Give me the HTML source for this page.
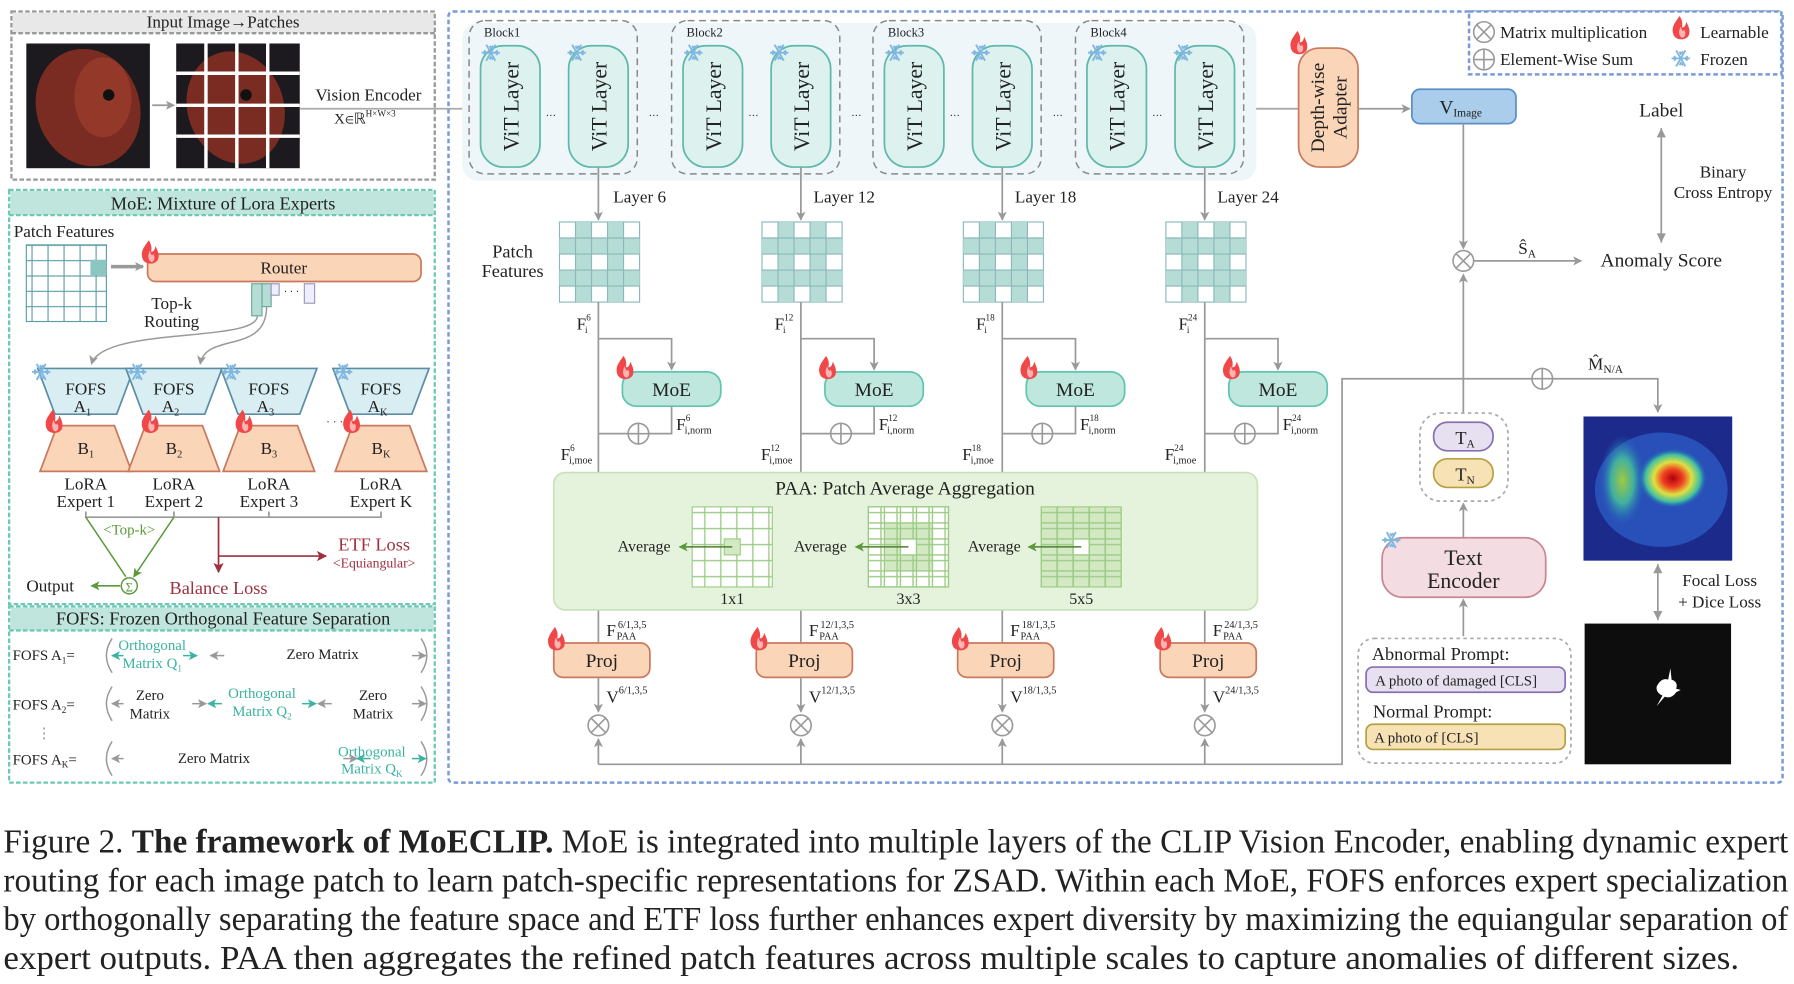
<!DOCTYPE html>
<html><head><meta charset="utf-8"><style>
html,body{margin:0;padding:0;background:#fff;}
svg{display:block;}
text{font-family:"Liberation Serif",serif;fill:#222;}
</style></head><body>
<svg width="1794" height="984" viewBox="0 0 1568 860" xmlns="http://www.w3.org/2000/svg">
<defs>
<marker id="ar" markerWidth="8" markerHeight="8" refX="7" refY="4" orient="auto" markerUnits="userSpaceOnUse"><path d="M0,0 L8,4 L0,8 L2,4z" fill="#999"/></marker>
<marker id="arg" markerWidth="8" markerHeight="8" refX="7" refY="4" orient="auto" markerUnits="userSpaceOnUse"><path d="M0,0 L8,4 L0,8 L2,4z" fill="#5a9a3a"/></marker>
<marker id="arr" markerWidth="9" markerHeight="9" refX="8" refY="4.5" orient="auto" markerUnits="userSpaceOnUse"><path d="M0,0 L9,4.5 L0,9 L2,4.5z" fill="#a03040"/></marker>
<marker id="art" markerWidth="8" markerHeight="8" refX="7" refY="4" orient="auto" markerUnits="userSpaceOnUse"><path d="M0,0 L8,4 L0,8 L2,4z" fill="#3bb3a0"/></marker>
<pattern id="gw" width="14" height="14" patternUnits="userSpaceOnUse"><rect width="14" height="14" fill="#fff" stroke="#9ccc85" stroke-width="1.2"/></pattern>
<pattern id="gg" width="14" height="14" patternUnits="userSpaceOnUse"><rect width="14" height="14" fill="#d3e9c4" stroke="#9ccc85" stroke-width="1.2"/></pattern>
<pattern id="gt" width="14" height="13.4" patternUnits="userSpaceOnUse"><rect width="14" height="13.4" fill="#fff" stroke="#5b9ea6" stroke-width="1"/></pattern>
<g id="flame"><path d="M6,0 C2,6 -2,10 1,17 C3,21 11,22 14,17 C16,12 13,8 12,5 C11,9 10,10 8,10 C9,6 8,3 6,0z" fill="#f04848"/><path d="M7,9 C5,13 5,17 8,19 C11,19 12,15 10,12 C9,14 8,13 7,9z" fill="#ffb3b3"/></g>
<g id="snow" stroke="#7fb7e0" stroke-width="1.6" fill="none"><line x1="-8" y1="0" x2="8" y2="0"/><line x1="-4" y1="-7" x2="4" y2="7"/><line x1="-4" y1="7" x2="4" y2="-7"/><path d="M-6,-2 L-4,0 L-6,2 M6,-2 L4,0 L6,2 M-1,-6 L0,-4 L2,-6 M-1,6 L0,4 L2,6"/></g>
<g id="ot"><circle r="9" fill="#fff" stroke="#999" stroke-width="1.4"/><path d="M-6.3,-6.3 L6.3,6.3 M-6.3,6.3 L6.3,-6.3" stroke="#999" stroke-width="1.4"/></g>
<g id="op"><circle r="9" fill="#fff" stroke="#999" stroke-width="1.4"/><path d="M-9,0 L9,0 M0,-9 L0,9" stroke="#999" stroke-width="1.4"/></g>
<g id="chk">
<rect x="0" y="0" width="70" height="70" fill="#fff" stroke="#8ab8bd"/>
<g fill="#b6dcd6"><rect x="14" y="0" width="14" height="70"/><rect x="42" y="0" width="14" height="70"/><rect x="0" y="14" width="14" height="14"/><rect x="56" y="14" width="14" height="14"/><rect x="0" y="42" width="14" height="14"/><rect x="56" y="42" width="14" height="14"/><rect x="28" y="14" width="14" height="14"/><rect x="28" y="42" width="14" height="14"/></g>
<path d="M14,0V70M28,0V70M42,0V70M56,0V70M0,14H70M0,28H70M0,42H70M0,56H70" stroke="#8ab8bd" stroke-width="1"/>
</g>
</defs>

<!-- ===== LEFT: input ===== -->
<rect x="10" y="10" width="370" height="147" fill="#fff" stroke="#999" stroke-width="2" stroke-dasharray="4,2"/>
<rect x="11" y="11" width="368" height="18" fill="#e8e8e8"/>
<line x1="10" y1="29" x2="380" y2="29" stroke="#999" stroke-width="2" stroke-dasharray="4,2"/>
<text x="195" y="24" font-size="15" text-anchor="middle">Input Image→Patches</text>
<rect x="23" y="38" width="108" height="109" fill="#1c1a1e"/>
<ellipse cx="77" cy="94" rx="45" ry="52" fill="#7a2c22" transform="rotate(-20 77 94)"/>
<ellipse cx="90" cy="85" rx="25" ry="35" fill="#94382a"/>
<circle cx="95" cy="83" r="5" fill="#111"/>
<line x1="133" y1="92" x2="152" y2="92" stroke="#999" stroke-width="1.5" marker-end="url(#ar)"/>
<rect x="154" y="38" width="108" height="109" fill="#1c1a1e"/>
<ellipse cx="206" cy="94" rx="42" ry="50" fill="#7a2c22" transform="rotate(-20 206 94)"/>
<circle cx="215" cy="83" r="5" fill="#111"/>
<path d="M180,38V147M207,38V147M234,38V147M154,64H262M154,92H262M154,119H262" stroke="#fff" stroke-width="3"/>
<text x="322" y="88" font-size="15" text-anchor="middle">Vision Encoder</text>
<text x="292" y="108" font-size="13">X<tspan font-size="9">∈</tspan>ℝ<tspan font-size="8" dy="-6">H×W×3</tspan></text>
<line x1="262" y1="95" x2="1135" y2="95" stroke="#aaa" stroke-width="1.5"/>

<!-- ===== MoE panel ===== -->
<rect x="8" y="166" width="372" height="362" fill="#fff" stroke="#6cc9b6" stroke-width="2" stroke-dasharray="4,2"/>
<rect x="9" y="167" width="370" height="21" fill="#bfe5dc"/>
<line x1="8" y1="188" x2="380" y2="188" stroke="#6cc9b6" stroke-width="2" stroke-dasharray="4,2"/>
<text x="195" y="183" font-size="16" text-anchor="middle">MoE: Mixture of Lora Experts</text>
<text x="12" y="207" font-size="15">Patch Features</text>
<rect x="23" y="214" width="70" height="67" fill="url(#gt)" stroke="#5b9ea6"/>
<rect x="79" y="227" width="14" height="13.4" fill="#8cc6c0"/>
<line x1="97" y1="233" x2="125" y2="233" stroke="#999" stroke-width="3" marker-end="url(#ar)"/>
<rect x="129" y="222" width="239" height="24" rx="7" fill="#fad5b8" stroke="#c97a5e" stroke-width="1.5"/>
<text x="248" y="239" font-size="15" text-anchor="middle">Router</text>
<use href="#flame" x="124" y="210"/>
<rect x="220" y="248" width="9" height="28" fill="#b6dcd6" stroke="#6a9"/>
<rect x="229" y="248" width="8" height="20" fill="#b6dcd6" stroke="#6a9"/>
<rect x="237" y="248" width="7" height="10" fill="#eef" stroke="#99b"/>
<rect x="266" y="248" width="9" height="17" fill="#eef" stroke="#99b"/>
<text x="248" y="258" font-size="9" fill="#999">· · ·</text>
<text x="150" y="270" font-size="15" text-anchor="middle">Top-k</text>
<text x="150" y="286" font-size="15" text-anchor="middle">Routing</text>
<path d="M225,276 C225,300 90,285 80,318" fill="none" stroke="#999" stroke-width="1.3" marker-end="url(#ar)"/>
<path d="M233,268 C233,310 180,290 175,318" fill="none" stroke="#999" stroke-width="1.3" marker-end="url(#ar)"/>
<!-- experts -->
<g font-size="15" text-anchor="middle">
<g transform="translate(75,0)"><path d="M-42,322 L42,322 L27,362 L-27,362z" fill="#d8eef2" stroke="#5b8ea6" stroke-width="1.5"/><path d="M-25,372 L25,372 L40,412 L-40,412z" fill="#fad5b8" stroke="#c97a5e" stroke-width="1.5"/><text y="345">FOFS</text><text x="-3" y="360">A<tspan font-size="9" dy="3">1</tspan></text><text y="397">B<tspan font-size="9" dy="3">1</tspan></text><text y="428">LoRA</text><text y="443">Expert 1</text></g>
<g transform="translate(152,0)"><path d="M-42,322 L42,322 L27,362 L-27,362z" fill="#d8eef2" stroke="#5b8ea6" stroke-width="1.5"/><path d="M-25,372 L25,372 L40,412 L-40,412z" fill="#fad5b8" stroke="#c97a5e" stroke-width="1.5"/><text y="345">FOFS</text><text x="-3" y="360">A<tspan font-size="9" dy="3">2</tspan></text><text y="397">B<tspan font-size="9" dy="3">2</tspan></text><text y="428">LoRA</text><text y="443">Expert 2</text></g>
<g transform="translate(235,0)"><path d="M-42,322 L42,322 L27,362 L-27,362z" fill="#d8eef2" stroke="#5b8ea6" stroke-width="1.5"/><path d="M-25,372 L25,372 L40,412 L-40,412z" fill="#fad5b8" stroke="#c97a5e" stroke-width="1.5"/><text y="345">FOFS</text><text x="-3" y="360">A<tspan font-size="9" dy="3">3</tspan></text><text y="397">B<tspan font-size="9" dy="3">3</tspan></text><text y="428">LoRA</text><text y="443">Expert 3</text></g>
<g transform="translate(333,0)"><path d="M-42,322 L42,322 L27,362 L-27,362z" fill="#d8eef2" stroke="#5b8ea6" stroke-width="1.5"/><path d="M-25,372 L25,372 L40,412 L-40,412z" fill="#fad5b8" stroke="#c97a5e" stroke-width="1.5"/><text y="345">FOFS</text><text x="-3" y="360">A<tspan font-size="9" dy="3">K</tspan></text><text y="397">B<tspan font-size="9" dy="3">K</tspan></text><text y="428">LoRA</text><text y="443">Expert K</text></g>
</g>
<text x="285" y="372" font-size="10" fill="#999">· · ·</text>
<use href="#snow" x="36" y="325"/><use href="#snow" x="120" y="325"/><use href="#snow" x="202" y="325"/><use href="#snow" x="300" y="325"/>
<use href="#flame" x="40" y="358"/><use href="#flame" x="124" y="358"/><use href="#flame" x="206" y="358"/><use href="#flame" x="300" y="358"/>
<path d="M75,447V452H333V447M152,447V452M235,447V452" fill="none" stroke="#999" stroke-width="1.5"/>
<path d="M75,452 L110,504 M152,452 L117,504" stroke="#5a9a3a" stroke-width="1.3" marker-end="url(#arg)"/>
<text x="113" y="467" font-size="13" text-anchor="middle" style="fill:#5a9a3a">&lt;Top-k&gt;</text>
<circle cx="113" cy="512" r="7" fill="#fff" stroke="#5a9a3a" stroke-width="1.3"/>
<text x="113" y="517" font-size="11" text-anchor="middle" style="fill:#5a9a3a">Σ</text>
<line x1="105" y1="512" x2="80" y2="512" stroke="#5a9a3a" stroke-width="1.5" marker-end="url(#arg)"/>
<text x="23" y="517" font-size="15">Output</text>
<line x1="191" y1="452" x2="191" y2="500" stroke="#a03040" stroke-width="1.5" marker-end="url(#arr)"/>
<line x1="191" y1="486" x2="285" y2="486" stroke="#a03040" stroke-width="1.5" marker-end="url(#arr)"/>
<text x="327" y="481" font-size="16" text-anchor="middle" style="fill:#a03040">ETF Loss</text>
<text x="327" y="496" font-size="12" text-anchor="middle" style="fill:#a03040">&lt;Equiangular&gt;</text>
<text x="191" y="519" font-size="16" text-anchor="middle" style="fill:#a03040">Balance Loss</text>

<!-- FOFS panel -->
<rect x="8" y="530" width="372" height="154" fill="#fff" stroke="#6cc9b6" stroke-width="2" stroke-dasharray="4,2"/>
<rect x="9" y="531" width="370" height="20" fill="#bfe5dc"/>
<line x1="8" y1="551" x2="380" y2="551" stroke="#6cc9b6" stroke-width="2" stroke-dasharray="4,2"/>
<text x="195" y="546" font-size="16" text-anchor="middle">FOFS: Frozen Orthogonal Feature Separation</text>
<g font-size="13">
<text x="11" y="577">FOFS A<tspan font-size="8" dy="3">1</tspan><tspan dy="-3">=</tspan></text>
<text x="11" y="620">FOFS A<tspan font-size="8" dy="3">2</tspan><tspan dy="-3">=</tspan></text>
<text x="11" y="668">FOFS A<tspan font-size="8" dy="3">K</tspan><tspan dy="-3">=</tspan></text>
<text x="32" y="645" style="fill:#999">⋮</text>
<path d="M98,558 Q88,573 98,588 M368,558 Q378,573 368,588 M98,600 Q88,615 98,630 M368,600 Q378,615 368,630 M98,648 Q88,663 98,678 M368,648 Q378,663 368,678" fill="none" stroke="#999" stroke-width="1.3"/>
<text x="133" y="568" text-anchor="middle" style="fill:#3bb3a0">Orthogonal</text><text x="133" y="584" text-anchor="middle" style="fill:#3bb3a0">Matrix Q<tspan font-size="8" dy="3">1</tspan></text>
<text x="282" y="576" text-anchor="middle">Zero Matrix</text>
<text x="131" y="612" text-anchor="middle">Zero</text><text x="131" y="628" text-anchor="middle">Matrix</text>
<text x="229" y="610" text-anchor="middle" style="fill:#3bb3a0">Orthogonal</text><text x="229" y="626" text-anchor="middle" style="fill:#3bb3a0">Matrix Q<tspan font-size="8" dy="3">2</tspan></text>
<text x="326" y="612" text-anchor="middle">Zero</text><text x="326" y="628" text-anchor="middle">Matrix</text>
<text x="187" y="667" text-anchor="middle">Zero Matrix</text>
<text x="325" y="661" text-anchor="middle" style="fill:#3bb3a0">Orthogonal</text><text x="325" y="676" text-anchor="middle" style="fill:#3bb3a0">Matrix Q<tspan font-size="8" dy="3">K</tspan></text>
</g>
<g stroke-width="1.3">
<line x1="108" y1="573" x2="98" y2="573" stroke="#3bb3a0" marker-end="url(#art)"/><line x1="160" y1="573" x2="172" y2="573" stroke="#3bb3a0" marker-end="url(#art)"/><line x1="196" y1="573" x2="184" y2="573" stroke="#999" marker-end="url(#ar)"/><line x1="360" y1="573" x2="372" y2="573" stroke="#999" marker-end="url(#ar)"/>
<line x1="108" y1="615" x2="98" y2="615" stroke="#999" marker-end="url(#ar)"/><line x1="168" y1="615" x2="180" y2="615" stroke="#999" marker-end="url(#ar)"/><line x1="194" y1="615" x2="182" y2="615" stroke="#3bb3a0" marker-end="url(#art)"/><line x1="264" y1="615" x2="276" y2="615" stroke="#3bb3a0" marker-end="url(#art)"/><line x1="290" y1="615" x2="278" y2="615" stroke="#999" marker-end="url(#ar)"/><line x1="360" y1="615" x2="372" y2="615" stroke="#999" marker-end="url(#ar)"/>
<line x1="108" y1="663" x2="98" y2="663" stroke="#999" marker-end="url(#ar)"/><line x1="300" y1="663" x2="312" y2="663" stroke="#999" marker-end="url(#ar)"/><line x1="324" y1="663" x2="312" y2="663" stroke="#3bb3a0" marker-end="url(#art)"/><line x1="360" y1="663" x2="372" y2="663" stroke="#3bb3a0" marker-end="url(#art)"/>
</g>

<!-- ===== MAIN PANEL ===== -->
<rect x="392" y="10" width="1166" height="674" rx="4" fill="none" stroke="#7a9bd6" stroke-width="2.2" stroke-dasharray="4,2.5"/>
<rect x="404" y="20" width="694" height="138" rx="14" fill="#eef6fa"/>
<line x1="1098" y1="95" x2="1135" y2="95" stroke="#aaa" stroke-width="1.5"/>
<g font-size="15">
<g transform="translate(523,0)">
<rect x="-113" y="18" width="147" height="134" rx="14" fill="none" stroke="#888" stroke-width="1.3" stroke-dasharray="6,4"/>
<text x="-100" y="32" font-size="11">Block1</text>
<rect x="-103" y="40" width="52" height="106" rx="20" fill="#ddf1ee" stroke="#5fb9ab" stroke-width="1.5"/>
<rect x="-26" y="40" width="52" height="106" rx="20" fill="#ddf1ee" stroke="#5fb9ab" stroke-width="1.5"/>
<text transform="translate(-70,93) rotate(-90)" text-anchor="middle" font-size="19">ViT Layer</text>
<text transform="translate(7,93) rotate(-90)" text-anchor="middle" font-size="19">ViT Layer</text>
<text x="-46" y="104" font-size="9" fill="#999">···</text><text x="44" y="104" font-size="9" fill="#999">···</text>
<use href="#snow" x="-94" y="46"/><use href="#snow" x="-19" y="46"/>
</g>
<g transform="translate(700,0)">
<rect x="-113" y="18" width="147" height="134" rx="14" fill="none" stroke="#888" stroke-width="1.3" stroke-dasharray="6,4"/>
<text x="-100" y="32" font-size="11">Block2</text>
<rect x="-103" y="40" width="52" height="106" rx="20" fill="#ddf1ee" stroke="#5fb9ab" stroke-width="1.5"/>
<rect x="-26" y="40" width="52" height="106" rx="20" fill="#ddf1ee" stroke="#5fb9ab" stroke-width="1.5"/>
<text transform="translate(-70,93) rotate(-90)" text-anchor="middle" font-size="19">ViT Layer</text>
<text transform="translate(7,93) rotate(-90)" text-anchor="middle" font-size="19">ViT Layer</text>
<text x="-46" y="104" font-size="9" fill="#999">···</text><text x="44" y="104" font-size="9" fill="#999">···</text>
<use href="#snow" x="-94" y="46"/><use href="#snow" x="-19" y="46"/>
</g>
<g transform="translate(876,0)">
<rect x="-113" y="18" width="147" height="134" rx="14" fill="none" stroke="#888" stroke-width="1.3" stroke-dasharray="6,4"/>
<text x="-100" y="32" font-size="11">Block3</text>
<rect x="-103" y="40" width="52" height="106" rx="20" fill="#ddf1ee" stroke="#5fb9ab" stroke-width="1.5"/>
<rect x="-26" y="40" width="52" height="106" rx="20" fill="#ddf1ee" stroke="#5fb9ab" stroke-width="1.5"/>
<text transform="translate(-70,93) rotate(-90)" text-anchor="middle" font-size="19">ViT Layer</text>
<text transform="translate(7,93) rotate(-90)" text-anchor="middle" font-size="19">ViT Layer</text>
<text x="-46" y="104" font-size="9" fill="#999">···</text><text x="44" y="104" font-size="9" fill="#999">···</text>
<use href="#snow" x="-94" y="46"/><use href="#snow" x="-19" y="46"/>
</g>
<g transform="translate(1053,0)">
<rect x="-113" y="18" width="147" height="134" rx="14" fill="none" stroke="#888" stroke-width="1.3" stroke-dasharray="6,4"/>
<text x="-100" y="32" font-size="11">Block4</text>
<rect x="-103" y="40" width="52" height="106" rx="20" fill="#ddf1ee" stroke="#5fb9ab" stroke-width="1.5"/>
<rect x="-26" y="40" width="52" height="106" rx="20" fill="#ddf1ee" stroke="#5fb9ab" stroke-width="1.5"/>
<text transform="translate(-70,93) rotate(-90)" text-anchor="middle" font-size="19">ViT Layer</text>
<text transform="translate(7,93) rotate(-90)" text-anchor="middle" font-size="19">ViT Layer</text>
<text x="-46" y="104" font-size="9" fill="#999">···</text>
<use href="#snow" x="-94" y="46"/><use href="#snow" x="-19" y="46"/>
</g>
</g>
<rect x="1135" y="42" width="52" height="104" rx="18" fill="#fad5b8" stroke="#c97a5e" stroke-width="1.5"/>
<text transform="translate(1160,94) rotate(-90)" text-anchor="middle" font-size="17"><tspan x="0" dy="-3">Depth-wise</tspan><tspan x="0" dy="20">Adapter</tspan></text>
<use href="#flame" x="1128" y="27"/>
<line x1="1187" y1="95" x2="1232" y2="95" stroke="#999" stroke-width="1.5" marker-end="url(#ar)"/>
<rect x="1234" y="78" width="91" height="30" rx="7" fill="#a9cdea" stroke="#5b8ec6" stroke-width="1.5"/>
<text x="1258" y="99" font-size="17">V<tspan font-size="10" dy="3">Image</tspan></text>

<!-- columns -->
<g font-size="15">
<g transform="translate(523,0)">
<line x1="0" y1="146" x2="0" y2="192" stroke="#999" stroke-width="1.5" marker-end="url(#ar)"/>
<text x="13" y="177">Layer 6</text>
<use href="#chk" x="-34" y="194"/>
<path d="M0,264V413M0,296H64V323" fill="none" stroke="#999" stroke-width="1.5" marker-end="url(#ar)"/>
<rect x="21" y="325" width="86" height="30" rx="12" fill="#bfe7de" stroke="#5fc5b0" stroke-width="1.5"/>
<text x="64" y="346" text-anchor="middle" font-size="17">MoE</text>
<use href="#flame" x="16" y="311"/>
<path d="M64,355V379H0" fill="none" stroke="#999" stroke-width="1.5"/>
<use href="#op" x="35" y="379"/>
<text x="-19" y="288">F<tspan font-size="8" dy="-8">6</tspan><tspan font-size="8" dx="-5" dy="11">i</tspan></text>
<text x="68" y="376">F<tspan font-size="8" dy="-8">6</tspan><tspan font-size="9" dx="-5" dy="11">i,norm</tspan></text>
<text x="-33" y="402">F<tspan font-size="8" dy="-8">6</tspan><tspan font-size="9" dx="-5" dy="11">i,moe</tspan></text>
<line x1="0" y1="533" x2="0" y2="562" stroke="#999" stroke-width="1.5"/>
<text x="7" y="556">F</text><text x="17" y="549" font-size="9">6/1,3,5</text><text x="16" y="559" font-size="9">PAA</text>
<rect x="-39" y="562" width="84" height="30" rx="8" fill="#fad5b8" stroke="#c97a5e" stroke-width="1.5"/>
<text x="3" y="583" text-anchor="middle" font-size="17">Proj</text>
<use href="#flame" x="-44" y="548"/>
<line x1="0" y1="592" x2="0" y2="622" stroke="#999" stroke-width="1.5" marker-end="url(#ar)"/>
<text x="7" y="614">V<tspan font-size="9" dy="-8">6/1,3,5</tspan></text>
<use href="#ot" x="0" y="634"/>
<line x1="0" y1="668" x2="0" y2="646" stroke="#999" stroke-width="1.5" marker-end="url(#ar)"/>
</g>
<g transform="translate(700,0)">
<line x1="0" y1="146" x2="0" y2="192" stroke="#999" stroke-width="1.5" marker-end="url(#ar)"/>
<text x="11" y="177">Layer 12</text>
<use href="#chk" x="-34" y="194"/>
<path d="M0,264V413M0,296H64V323" fill="none" stroke="#999" stroke-width="1.5" marker-end="url(#ar)"/>
<rect x="21" y="325" width="86" height="30" rx="12" fill="#bfe7de" stroke="#5fc5b0" stroke-width="1.5"/>
<text x="64" y="346" text-anchor="middle" font-size="17">MoE</text>
<use href="#flame" x="16" y="311"/>
<path d="M64,355V379H0" fill="none" stroke="#999" stroke-width="1.5"/>
<use href="#op" x="35" y="379"/>
<text x="-23" y="288">F<tspan font-size="8" dy="-8">12</tspan><tspan font-size="8" dx="-9" dy="11">i</tspan></text>
<text x="68" y="376">F<tspan font-size="8" dy="-8">12</tspan><tspan font-size="9" dx="-9" dy="11">i,norm</tspan></text>
<text x="-35" y="402">F<tspan font-size="8" dy="-8">12</tspan><tspan font-size="9" dx="-9" dy="11">i,moe</tspan></text>
<line x1="0" y1="533" x2="0" y2="562" stroke="#999" stroke-width="1.5"/>
<text x="7" y="556">F</text><text x="17" y="549" font-size="9">12/1,3,5</text><text x="16" y="559" font-size="9">PAA</text>
<rect x="-39" y="562" width="84" height="30" rx="8" fill="#fad5b8" stroke="#c97a5e" stroke-width="1.5"/>
<text x="3" y="583" text-anchor="middle" font-size="17">Proj</text>
<use href="#flame" x="-44" y="548"/>
<line x1="0" y1="592" x2="0" y2="622" stroke="#999" stroke-width="1.5" marker-end="url(#ar)"/>
<text x="7" y="614">V<tspan font-size="9" dy="-8">12/1,3,5</tspan></text>
<use href="#ot" x="0" y="634"/>
<line x1="0" y1="668" x2="0" y2="646" stroke="#999" stroke-width="1.5" marker-end="url(#ar)"/>
</g>
<g transform="translate(876,0)">
<line x1="0" y1="146" x2="0" y2="192" stroke="#999" stroke-width="1.5" marker-end="url(#ar)"/>
<text x="11" y="177">Layer 18</text>
<use href="#chk" x="-34" y="194"/>
<path d="M0,264V413M0,296H64V323" fill="none" stroke="#999" stroke-width="1.5" marker-end="url(#ar)"/>
<rect x="21" y="325" width="86" height="30" rx="12" fill="#bfe7de" stroke="#5fc5b0" stroke-width="1.5"/>
<text x="64" y="346" text-anchor="middle" font-size="17">MoE</text>
<use href="#flame" x="16" y="311"/>
<path d="M64,355V379H0" fill="none" stroke="#999" stroke-width="1.5"/>
<use href="#op" x="35" y="379"/>
<text x="-23" y="288">F<tspan font-size="8" dy="-8">18</tspan><tspan font-size="8" dx="-9" dy="11">i</tspan></text>
<text x="68" y="376">F<tspan font-size="8" dy="-8">18</tspan><tspan font-size="9" dx="-9" dy="11">i,norm</tspan></text>
<text x="-35" y="402">F<tspan font-size="8" dy="-8">18</tspan><tspan font-size="9" dx="-9" dy="11">i,moe</tspan></text>
<line x1="0" y1="533" x2="0" y2="562" stroke="#999" stroke-width="1.5"/>
<text x="7" y="556">F</text><text x="17" y="549" font-size="9">18/1,3,5</text><text x="16" y="559" font-size="9">PAA</text>
<rect x="-39" y="562" width="84" height="30" rx="8" fill="#fad5b8" stroke="#c97a5e" stroke-width="1.5"/>
<text x="3" y="583" text-anchor="middle" font-size="17">Proj</text>
<use href="#flame" x="-44" y="548"/>
<line x1="0" y1="592" x2="0" y2="622" stroke="#999" stroke-width="1.5" marker-end="url(#ar)"/>
<text x="7" y="614">V<tspan font-size="9" dy="-8">18/1,3,5</tspan></text>
<use href="#ot" x="0" y="634"/>
<line x1="0" y1="668" x2="0" y2="646" stroke="#999" stroke-width="1.5" marker-end="url(#ar)"/>
</g>
<g transform="translate(1053,0)">
<line x1="0" y1="146" x2="0" y2="192" stroke="#999" stroke-width="1.5" marker-end="url(#ar)"/>
<text x="11" y="177">Layer 24</text>
<use href="#chk" x="-34" y="194"/>
<path d="M0,264V413M0,296H64V323" fill="none" stroke="#999" stroke-width="1.5" marker-end="url(#ar)"/>
<rect x="21" y="325" width="86" height="30" rx="12" fill="#bfe7de" stroke="#5fc5b0" stroke-width="1.5"/>
<text x="64" y="346" text-anchor="middle" font-size="17">MoE</text>
<use href="#flame" x="16" y="311"/>
<path d="M64,355V379H0" fill="none" stroke="#999" stroke-width="1.5"/>
<use href="#op" x="35" y="379"/>
<text x="-23" y="288">F<tspan font-size="8" dy="-8">24</tspan><tspan font-size="8" dx="-9" dy="11">i</tspan></text>
<text x="68" y="376">F<tspan font-size="8" dy="-8">24</tspan><tspan font-size="9" dx="-9" dy="11">i,norm</tspan></text>
<text x="-35" y="402">F<tspan font-size="8" dy="-8">24</tspan><tspan font-size="9" dx="-9" dy="11">i,moe</tspan></text>
<line x1="0" y1="533" x2="0" y2="562" stroke="#999" stroke-width="1.5"/>
<text x="7" y="556">F</text><text x="17" y="549" font-size="9">24/1,3,5</text><text x="16" y="559" font-size="9">PAA</text>
<rect x="-39" y="562" width="84" height="30" rx="8" fill="#fad5b8" stroke="#c97a5e" stroke-width="1.5"/>
<text x="3" y="583" text-anchor="middle" font-size="17">Proj</text>
<use href="#flame" x="-44" y="548"/>
<line x1="0" y1="592" x2="0" y2="622" stroke="#999" stroke-width="1.5" marker-end="url(#ar)"/>
<text x="7" y="614">V<tspan font-size="9" dy="-8">24/1,3,5</tspan></text>
<use href="#ot" x="0" y="634"/>
<line x1="0" y1="668" x2="0" y2="646" stroke="#999" stroke-width="1.5" marker-end="url(#ar)"/>
</g>
</g>
<text x="448" y="225" font-size="16" text-anchor="middle">Patch</text>
<text x="448" y="242" font-size="16" text-anchor="middle">Features</text>

<!-- PAA -->
<rect x="484" y="413" width="615" height="120" rx="10" fill="#e6f3dc" stroke="#c8e3b7" stroke-width="1.5"/>
<text x="791" y="432" font-size="17" text-anchor="middle">PAA: Patch Average Aggregation</text>
<rect x="605" y="443" width="70" height="70" fill="url(#gw)" stroke="#9ccc85"/>
<rect x="633" y="471" width="14" height="14" fill="#d3e9c4" stroke="#9ccc85"/>
<rect x="759" y="443" width="70" height="70" fill="url(#gw)" stroke="#9ccc85"/>
<rect x="773" y="457" width="42" height="42" fill="url(#gg)"/>
<rect x="787" y="471" width="14" height="14" fill="#fff"/>
<path d="M759,443h70v70h-70z M773,443V513M787,443V513M801,443V513M815,443V513M759,457H829M759,471H829M759,485H829M759,499H829" fill="none" stroke="#9ccc85" stroke-width="1.2"/>
<rect x="910" y="443" width="70" height="70" fill="url(#gg)" stroke="#9ccc85"/>
<rect x="938" y="471" width="14" height="14" fill="#fff"/>
<path d="M924,443V513M938,443V513M952,443V513M966,443V513M910,457H980M910,471H980M910,485H980M910,499H980" fill="none" stroke="#9ccc85" stroke-width="1.2"/>
<g stroke="#4e7f32" stroke-width="1.3"><line x1="640" y1="478" x2="594" y2="478" marker-end="url(#arg)"/><line x1="794" y1="478" x2="748" y2="478" marker-end="url(#arg)"/><line x1="945" y1="478" x2="899" y2="478" marker-end="url(#arg)"/></g>
<g font-size="14" text-anchor="middle"><text x="563" y="482">Average</text><text x="717" y="482">Average</text><text x="869" y="482">Average</text>
<text x="640" y="528">1x1</text><text x="794" y="528">3x3</text><text x="945" y="528">5x5</text></g>

<!-- bottom loop -->
<path d="M523,668H1173V331H1449V360" fill="none" stroke="#999" stroke-width="1.5" marker-end="url(#ar)"/>
<use href="#op" x="1348" y="331"/>
<text x="1388" y="323" font-size="15">M̂<tspan font-size="10" dy="3">N/A</tspan></text>
<line x1="1279" y1="108" x2="1279" y2="217" stroke="#999" stroke-width="1.5" marker-end="url(#ar)"/>
<use href="#ot" x="1279" y="228"/>
<line x1="1279" y1="361" x2="1279" y2="240" stroke="#999" stroke-width="1.5" marker-end="url(#ar)"/>
<line x1="1288" y1="228" x2="1382" y2="228" stroke="#999" stroke-width="1.5" marker-end="url(#ar)"/>
<text x="1327" y="222" font-size="15">Ŝ<tspan font-size="10" dy="3">A</tspan></text>
<text x="1452" y="233" font-size="17" text-anchor="middle">Anomaly Score</text>
<text x="1452" y="102" font-size="17" text-anchor="middle">Label</text>
<line x1="1452" y1="112" x2="1452" y2="212" stroke="#999" stroke-width="1.5"/>
<path d="M1452,112 l-4,8 h8z M1452,212 l-4,-8 h8z" fill="#999"/>
<text x="1506" y="155" font-size="15" text-anchor="middle">Binary</text>
<text x="1506" y="173" font-size="15" text-anchor="middle">Cross Entropy</text>
<rect x="1241" y="361" width="77" height="77" rx="18" fill="none" stroke="#aaa" stroke-width="1.5" stroke-dasharray="3,3"/>
<rect x="1253" y="369" width="52" height="25" rx="12" fill="#e6e0f0" stroke="#8a6fb0" stroke-width="1.5"/>
<text x="1272" y="388" font-size="16">T<tspan font-size="10" dy="3">A</tspan></text>
<rect x="1253" y="401" width="52" height="25" rx="12" fill="#f7e2b5" stroke="#b8a042" stroke-width="1.5"/>
<text x="1272" y="420" font-size="16">T<tspan font-size="10" dy="3">N</tspan></text>
<line x1="1279" y1="470" x2="1279" y2="440" stroke="#999" stroke-width="1.5" marker-end="url(#ar)"/>
<rect x="1208" y="470" width="143" height="52" rx="18" fill="#f3dde2" stroke="#c98592" stroke-width="1.5"/>
<text x="1279" y="494" font-size="19" text-anchor="middle">Text</text>
<text x="1279" y="514" font-size="19" text-anchor="middle">Encoder</text>
<use href="#snow" x="1216" y="472"/>
<line x1="1279" y1="556" x2="1279" y2="524" stroke="#999" stroke-width="1.5" marker-end="url(#ar)"/>
<rect x="1187" y="558" width="186" height="109" rx="14" fill="none" stroke="#aaa" stroke-width="1.5" stroke-dasharray="3,3"/>
<text x="1199" y="577" font-size="16">Abnormal Prompt:</text>
<rect x="1194" y="583" width="174" height="22" rx="6" fill="#e6e0f0" stroke="#8a6fb0" stroke-width="1.5"/>
<text x="1202" y="599" font-size="13">A photo of damaged [CLS]</text>
<text x="1200" y="627" font-size="16">Normal Prompt:</text>
<rect x="1194" y="633" width="174" height="22" rx="6" fill="#f7e2b5" stroke="#b8a042" stroke-width="1.5"/>
<text x="1201" y="649" font-size="13">A photo of [CLS]</text>
<defs>
<radialGradient id="hot" cx="0.5" cy="0.5" r="0.5"><stop offset="0" stop-color="#b00010"/><stop offset="0.3" stop-color="#f04020"/><stop offset="0.55" stop-color="#e0e040"/><stop offset="0.8" stop-color="#40c0a0"/><stop offset="1" stop-color="#2060c0" stop-opacity="0"/></radialGradient>
<radialGradient id="warm" cx="0.5" cy="0.5" r="0.5"><stop offset="0" stop-color="#a0c840"/><stop offset="0.5" stop-color="#40b0a0"/><stop offset="1" stop-color="#2060c0" stop-opacity="0"/></radialGradient>
</defs>
<rect x="1384" y="364" width="130" height="126" fill="#1c2a8c"/>
<ellipse cx="1452" cy="428" rx="58" ry="50" fill="#2850b8"/>
<ellipse cx="1418" cy="420" rx="20" ry="40" fill="url(#warm)"/>
<ellipse cx="1462" cy="418" rx="30" ry="26" fill="url(#hot)"/>
<line x1="1449" y1="493" x2="1449" y2="542" stroke="#999" stroke-width="1.5"/>
<path d="M1449,493 l-4,8 h8z M1449,542 l-4,-8 h8z" fill="#999"/>
<text x="1503" y="512" font-size="15" text-anchor="middle">Focal Loss</text>
<text x="1503" y="531" font-size="15" text-anchor="middle">+ Dice Loss</text>
<rect x="1385" y="545" width="128" height="123" fill="#0d0d0d"/>
<path d="M1448,600 q4,-8 10,-6 l2,-10 l1,10 q6,2 4,8 l4,1 l-4,2 q-4,6 -10,4 l-7,8 l5,-9 q-6,-3 -5,-8z" fill="#fff"/>
<rect x="1284" y="10" width="273" height="55" fill="#fff" stroke="#7a9bd6" stroke-width="2.2" stroke-dasharray="4,2.5"/>
<use href="#ot" x="1297" y="28"/><use href="#op" x="1297" y="52"/>
<text x="1311" y="33" font-size="15">Matrix multiplication</text>
<text x="1311" y="57" font-size="15">Element-Wise Sum</text>
<use href="#flame" x="1462" y="14"/><use href="#snow" x="1469" y="51"/>
<text x="1486" y="33" font-size="15">Learnable</text>
<text x="1486" y="57" font-size="15">Frozen</text>

<!-- caption -->
<g font-size="29.5">
<text x="3" y="745" textLength="1560" lengthAdjust="spacingAndGlyphs">Figure 2. <tspan font-weight="bold">The framework of MoECLIP.</tspan> MoE is integrated into multiple layers of the CLIP Vision Encoder, enabling dynamic expert</text>
<text x="3" y="779" textLength="1560" lengthAdjust="spacingAndGlyphs">routing for each image patch to learn patch-specific representations for ZSAD. Within each MoE, FOFS enforces expert specialization</text>
<text x="3" y="813" textLength="1560" lengthAdjust="spacingAndGlyphs">by orthogonally separating the feature space and ETF loss further enhances expert diversity by maximizing the equiangular separation of</text>
<text x="3" y="847" textLength="1517" lengthAdjust="spacingAndGlyphs">expert outputs. PAA then aggregates the refined patch features across multiple scales to capture anomalies of different sizes.</text>
</g>
</svg>
</body></html>
